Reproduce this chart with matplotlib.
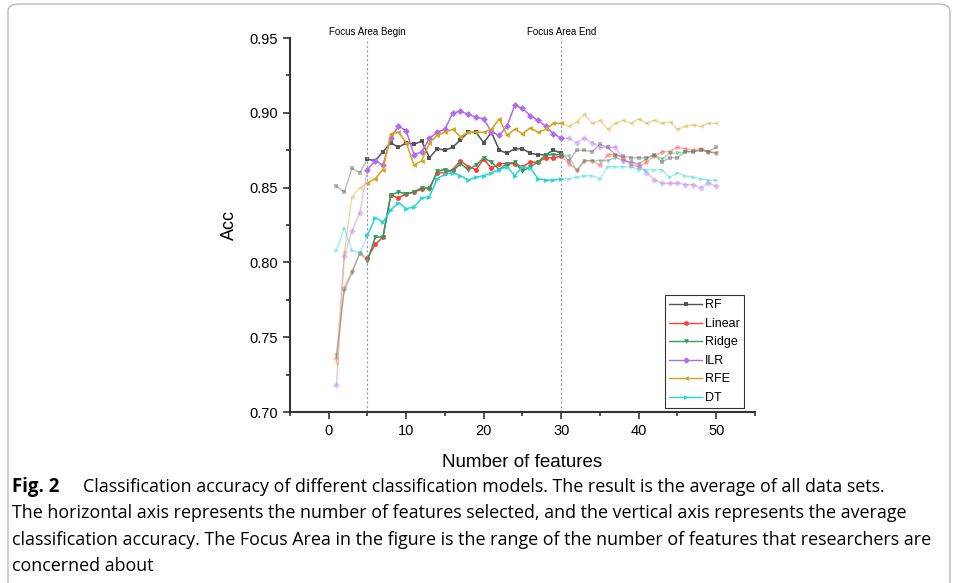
import matplotlib
matplotlib.use("Agg")
import matplotlib.pyplot as plt
from matplotlib.patches import FancyBboxPatch
from matplotlib.ticker import MultipleLocator
import numpy as np

# Number of features on the x axis
n_features = list(range(1, 51))

rf = [0.851, 0.847, 0.863, 0.860, 0.869, 0.868, 0.874, 0.880, 0.877, 0.880,
      0.879, 0.881, 0.870, 0.876, 0.875, 0.877, 0.882, 0.887, 0.887, 0.880,
      0.887, 0.875, 0.873, 0.876, 0.876, 0.873, 0.872, 0.872, 0.875, 0.873,
      0.868, 0.875, 0.875, 0.874, 0.879, 0.877, 0.872, 0.871, 0.870, 0.870,
      0.870, 0.872, 0.867, 0.870, 0.870, 0.874, 0.874, 0.875, 0.874, 0.877]
linear = [0.736, 0.783, 0.794, 0.806, 0.803, 0.812, 0.817, 0.845, 0.843, 0.846,
          0.847, 0.849, 0.850, 0.860, 0.860, 0.862, 0.868, 0.864, 0.862, 0.869,
          0.863, 0.866, 0.866, 0.866, 0.864, 0.867, 0.867, 0.870, 0.870, 0.871,
          0.866, 0.862, 0.868, 0.868, 0.865, 0.872, 0.872, 0.870, 0.865, 0.864,
          0.867, 0.871, 0.874, 0.874, 0.877, 0.876, 0.875, 0.876, 0.874, 0.873]
ridge = [0.738, 0.781, 0.793, 0.806, 0.801, 0.817, 0.817, 0.845, 0.847, 0.846,
         0.847, 0.850, 0.849, 0.861, 0.862, 0.861, 0.866, 0.862, 0.865, 0.870,
         0.867, 0.862, 0.866, 0.867, 0.861, 0.864, 0.867, 0.872, 0.872, 0.872,
         0.871, 0.861, 0.868, 0.868, 0.868, 0.868, 0.870, 0.868, 0.867, 0.866,
         0.869, 0.872, 0.869, 0.873, 0.873, 0.874, 0.874, 0.875, 0.874, 0.873]
ilr = [0.718, 0.804, 0.821, 0.833, 0.862, 0.868, 0.865, 0.883, 0.891, 0.888,
       0.872, 0.874, 0.883, 0.887, 0.889, 0.900, 0.901, 0.899, 0.897, 0.896,
       0.887, 0.885, 0.891, 0.905, 0.903, 0.898, 0.895, 0.891, 0.886, 0.883,
       0.883, 0.880, 0.883, 0.880, 0.877, 0.877, 0.877, 0.868, 0.867, 0.865,
       0.860, 0.855, 0.853, 0.853, 0.853, 0.852, 0.852, 0.850, 0.853, 0.851]
rfe = [0.733, 0.807, 0.844, 0.850, 0.853, 0.856, 0.862, 0.886, 0.887, 0.880,
       0.865, 0.868, 0.880, 0.885, 0.887, 0.889, 0.884, 0.887, 0.887, 0.887,
       0.889, 0.896, 0.885, 0.889, 0.886, 0.890, 0.887, 0.889, 0.893, 0.893,
       0.891, 0.894, 0.899, 0.893, 0.895, 0.889, 0.893, 0.895, 0.893, 0.896,
       0.893, 0.895, 0.893, 0.894, 0.889, 0.891, 0.892, 0.891, 0.893, 0.893]
dt = [0.808, 0.823, 0.808, 0.806, 0.818, 0.830, 0.827, 0.835, 0.840, 0.836,
      0.837, 0.843, 0.844, 0.856, 0.859, 0.860, 0.858, 0.855, 0.857, 0.858,
      0.860, 0.862, 0.864, 0.858, 0.864, 0.863, 0.856, 0.855, 0.855, 0.856,
      0.856, 0.857, 0.858, 0.858, 0.856, 0.864, 0.864, 0.864, 0.864, 0.862,
      0.862, 0.862, 0.862, 0.857, 0.860, 0.858, 0.857, 0.856, 0.855, 0.855]

series = [
    ("RF", rf, "#555555", "s"),
    ("Linear", linear, "#ff3b3b", "o"),
    ("Ridge", ridge, "#2e9e5b", "v"),
    ("ILR", ilr, "#b26bf0", "D"),
    ("RFE", rfe, "#d9a21b", "<"),
    ("DT", dt, "#22d8d8", ">"),
]

focus_begin, focus_end = 5, 30

plt.rcParams["font.family"] = ["Liberation Sans", "DejaVu Sans"]

fig = plt.figure(figsize=(9.58, 5.83), dpi=100)
ax = fig.add_axes([0.3027, 0.2933, 0.4854, 0.6415])

x = np.array(n_features)
inside = (x >= focus_begin) & (x <= focus_end)
for name, vals, col, mk in series:
    v = np.array(vals)
    # faded line over the whole range
    ax.plot(x, v, color=col, marker=mk, ms=3.4, lw=1.0, alpha=0.4,
            markeredgewidth=0)
    # solid part inside the focus area
    ax.plot(x[inside], v[inside], color=col, marker=mk, ms=3.4, lw=1.0,
            markeredgewidth=0, label=name)

for xv in (focus_begin, focus_end):
    ax.axvline(xv, color="#999999", lw=0.8, ls=(0, (2, 2)))

ax.text(focus_begin, 0.9508, "Focus Area Begin", ha="center", va="bottom",
        fontsize=7)
ax.text(focus_end, 0.9508, "Focus Area End", ha="center", va="bottom",
        fontsize=7)

ax.set_xlim(-5, 55)
ax.set_ylim(0.70, 0.95)
ax.xaxis.set_major_locator(MultipleLocator(10))
ax.xaxis.set_minor_locator(MultipleLocator(5))
ax.yaxis.set_major_locator(MultipleLocator(0.05))
ax.yaxis.set_minor_locator(MultipleLocator(0.025))
ax.yaxis.set_major_formatter(matplotlib.ticker.FormatStrFormatter("%.2f"))
ax.set_xticks([0, 10, 20, 30, 40, 50])
ax.tick_params(which="major", direction="out", length=5, width=1.2,
               labelsize=10.5, color="#333333")
ax.tick_params(which="minor", direction="out", length=3, width=1.2,
               color="#333333")
for s in ("top", "right"):
    ax.spines[s].set_visible(False)
for s in ("left", "bottom"):
    ax.spines[s].set_linewidth(1.5)
    ax.spines[s].set_color("#333333")

ax.set_xlabel("Number of features", fontsize=13.5, labelpad=12)
ax.set_ylabel("Acc", fontsize=13, labelpad=8)

leg = ax.legend(loc="lower right", bbox_to_anchor=(0.985, 0.0), fontsize=9,
                frameon=True, fancybox=False, edgecolor="black",
                borderpad=0.35, labelspacing=0.52, handlelength=2.6,
                handletextpad=0.25, borderaxespad=0.3)
leg.get_frame().set_linewidth(0.8)

# rounded frame around the figure
box = FancyBboxPatch((8 / 958, -0.05), 942 / 958, 1.0 - 4 / 583 + 0.05,
                     boxstyle="round,pad=0,rounding_size=0.012",
                     transform=fig.transFigure, fill=False,
                     edgecolor="#bbbbbb", lw=1.0)
fig.patches.append(box)

cap_font = ["Open Sans", "DejaVu Sans"]
cap_size = 12.9
fig.text(12 / 958, 1 - 487 / 583, "Fig. 2", fontsize=cap_size + 0.5,
         fontweight="bold", family=cap_font, va="center")
fig.text(83 / 958, 1 - 487 / 583,
         "Classification accuracy of different classification models. "
         "The result is the average of all data sets.",
         fontsize=cap_size, family=cap_font, va="center")
fig.text(12 / 958, 1 - 513 / 583,
         "The horizontal axis represents the number of features selected, "
         "and the vertical axis represents the average",
         fontsize=cap_size, family=cap_font, va="center")
fig.text(12 / 958, 1 - 540 / 583,
         "classification accuracy. The Focus Area in the figure is the range "
         "of the number of features that researchers are",
         fontsize=cap_size, family=cap_font, va="center")
fig.text(12 / 958, 1 - 566 / 583, "concerned about",
         fontsize=cap_size, family=cap_font, va="center")

fig.savefig("out.png", dpi=100)
